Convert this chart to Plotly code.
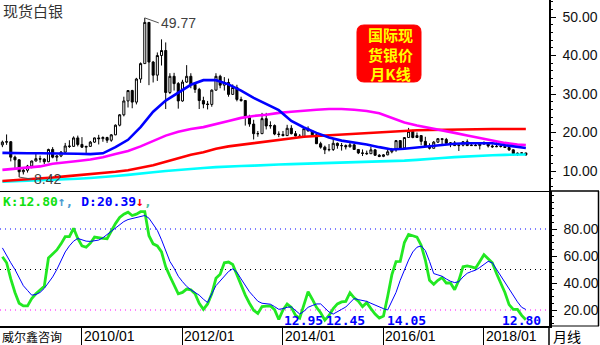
import plotly.graph_objects as go
import pandas as pd

# ---------------- data ----------------
months = [p.strftime("%Y/%m") for p in pd.period_range("2008-06", "2018-11", freq="M")]

opens = [
    16.8, 17.5, 17.6, 13.6, 12.9, 9.8, 10.2,
    11.3, 12.6, 13.2, 13.1, 12.4, 15.6, 13.6, 13.9, 14.9, 16.5, 16.4, 18.6,
    16.9, 16.2, 16.4, 17.5, 18.6, 18.4, 18.7, 18.0, 19.4, 21.9, 24.6, 28.2,
    30.9, 27.9, 33.9, 37.9, 48.6, 38.3, 34.9, 40.0, 41.3, 30.4, 34.6, 32.7,
    28.2, 33.1, 34.6, 32.5, 31.2, 28.3, 27.4, 27.3, 31.0, 34.6, 32.3, 33.0,
    29.9, 31.7, 28.6, 28.3, 24.0, 22.2, 19.7, 19.7, 23.6, 21.7, 21.8, 19.6,
    19.5, 19.2, 21.1, 19.7, 19.1, 18.8, 21.0, 20.4, 19.4, 17.1, 16.2, 15.5,
    15.6, 17.2, 16.6, 16.6, 16.3, 16.8, 15.6, 14.7, 14.6, 14.5, 15.5, 14.1,
    13.8, 14.2, 15.0, 15.5, 17.9, 16.0, 18.7, 20.3, 18.7, 19.2, 17.7, 16.5,
    15.9, 17.5, 18.4, 18.2, 17.2, 17.3, 16.6, 16.7, 17.6, 16.6, 16.7, 16.6,
    17.0, 17.3, 16.5, 16.3, 16.4, 16.4, 16.1, 15.5, 14.5, 14.6, 14.7,
]
highs = [
    17.9, 19.5, 17.8, 14.0, 13.1, 10.6, 11.6,
    12.7, 14.6, 14.0, 13.3, 15.8, 16.2, 14.1, 15.2, 17.3, 18.0, 19.0, 19.2,
    18.8, 16.5, 17.8, 18.7, 19.4, 19.0, 18.9, 19.6, 22.1, 24.8, 29.3, 31.0,
    31.1, 34.2, 38.2, 49.77, 48.6, 38.6, 40.8, 44.2, 43.4, 35.4, 35.5, 33.1,
    33.7, 37.5, 35.4, 33.0, 31.6, 29.3, 28.2, 31.2, 35.4, 35.0, 34.4, 34.0,
    32.5, 32.4, 29.3, 28.4, 24.6, 23.3, 20.4, 25.1, 25.1, 22.9, 22.1, 20.3,
    20.4, 22.0, 21.9, 20.4, 19.6, 21.2, 21.6, 20.5, 19.6, 17.6, 16.6, 17.0,
    18.5, 17.4, 17.3, 16.9, 17.8, 17.0, 15.7, 15.6, 15.3, 16.3, 15.6, 14.4,
    14.4, 15.8, 16.0, 18.0, 17.9, 18.8, 21.2, 20.7, 20.0, 19.3, 18.9, 17.2,
    17.8, 18.5, 18.5, 18.6, 17.5, 17.8, 16.9, 17.8, 18.2, 17.4, 17.4, 17.1,
    17.7, 17.4, 16.9, 17.4, 16.9, 17.3, 16.2, 15.6, 14.8, 14.8, 14.7,
]
lows = [
    16.2, 16.8, 12.5, 10.7, 8.42, 9.1, 9.6,
    10.7, 12.5, 12.2, 11.8, 12.3, 13.3, 12.5, 13.6, 14.7, 16.0, 16.3, 16.4,
    16.0, 14.7, 16.3, 17.3, 16.9, 17.6, 17.3, 17.6, 19.3, 21.6, 24.2, 26.5,
    26.3, 27.3, 32.9, 37.9, 32.3, 33.0, 33.4, 37.4, 26.1, 30.0, 30.9, 26.2,
    28.0, 32.9, 31.5, 30.3, 26.1, 26.3, 26.0, 26.7, 30.9, 31.5, 30.9, 29.3,
    29.9, 28.1, 28.0, 21.8, 21.5, 18.2, 18.9, 19.6, 20.8, 21.0, 19.3, 18.8,
    19.0, 19.2, 19.5, 19.0, 18.7, 18.6, 20.3, 19.2, 17.0, 15.8, 14.4, 15.1,
    15.2, 15.8, 15.3, 15.6, 16.1, 15.6, 14.4, 13.9, 14.2, 14.5, 13.9, 13.6,
    13.6, 14.1, 14.6, 15.0, 15.8, 15.8, 18.7, 18.5, 18.6, 16.7, 16.4, 15.6,
    15.9, 17.3, 16.8, 17.0, 16.2, 16.5, 15.2, 16.4, 16.5, 16.5, 16.6, 15.6,
    16.9, 16.1, 16.0, 16.2, 16.1, 16.0, 15.2, 14.0, 13.9, 14.3, 13.9,
]
closes = [
    17.5, 17.6, 13.6, 12.9, 9.8, 10.2, 11.3,
    12.6, 13.2, 13.1, 12.4, 15.6, 13.6, 13.9, 14.9, 16.5, 16.4, 18.6, 16.9,
    16.2, 16.4, 17.5, 18.6, 18.4, 18.7, 18.0, 19.4, 21.9, 24.6, 28.2, 30.9,
    27.9, 33.9, 37.9, 48.6, 38.3, 34.9, 40.0, 41.3, 30.4, 34.6, 32.7, 28.2,
    33.1, 34.6, 32.5, 31.2, 28.3, 27.4, 27.3, 31.0, 34.6, 32.3, 33.0, 29.9,
    31.7, 28.6, 28.3, 24.0, 22.2, 19.7, 19.7, 23.6, 21.7, 21.8, 19.6, 19.5,
    19.2, 21.1, 19.7, 19.1, 18.8, 21.0, 20.4, 19.4, 17.1, 16.2, 15.5, 15.6,
    17.2, 16.6, 16.6, 16.3, 16.8, 15.6, 14.7, 14.6, 14.5, 15.5, 14.1, 13.8,
    14.2, 15.0, 15.5, 17.9, 16.0, 18.7, 20.3, 18.7, 19.2, 17.7, 16.5, 15.9,
    17.5, 18.4, 18.2, 17.2, 17.3, 16.6, 16.7, 17.6, 16.6, 16.7, 16.6, 17.0,
    17.3, 16.5, 16.3, 16.4, 16.4, 16.1, 15.5, 14.5, 14.6, 14.7, 14.2,
]

# moving-average lines, read every 3rd month (plus the last month)
ma_step = 3
ma_blue = [14.7, 14.6, 14.6, 14.6, 14.6, 14.6, 14.5, 14.4, 14.6, 16.2,
           18.1, 21.4, 25.4, 28.3, 30.4, 32.4, 33.6, 33.6, 32.5, 30.9,
           29.0, 27.5, 25.8, 23.0, 21.3, 19.9, 18.7, 17.9, 17.4, 16.9,
           16.2, 15.6, 15.8, 16.1, 16.4, 16.8, 17.1, 17.2, 17.2, 17.2,
           16.7, 16.2, 16.0]
ma_magenta = [10.3, 10.6, 10.9, 11.2, 11.9, 12.2, 12.6, 13.0, 13.6, 14.4,
              15.2, 16.4, 17.8, 19.2, 20.2, 20.9, 21.4, 22.1, 23.0, 23.8,
              24.3, 24.6, 25.1, 25.4, 25.7, 25.9, 26.1, 26.1, 25.9, 25.6,
              25.0, 23.8, 22.6, 21.8, 21.2, 20.5, 19.9, 19.2, 18.6, 17.9,
              17.3, 16.9, 16.75]
ma_red = [7.4, 7.6, 7.8, 8.1, 8.3, 8.6, 8.9, 9.1, 9.4, 9.8,
          10.2, 10.8, 11.5, 12.4, 13.4, 14.2, 14.9, 15.8, 16.4, 16.8,
          17.2, 17.6, 18.0, 18.5, 18.9, 19.1, 19.3, 19.4, 19.6, 19.8,
          20.0, 20.2, 20.4, 20.6, 20.65, 20.7, 20.9, 20.9, 20.9, 20.9,
          20.9, 20.9, 20.9]
ma_cyan = [7.2, 7.3, 7.5, 7.6, 7.8, 7.9, 8.0, 8.2, 8.4, 8.7,
           9.0, 9.4, 9.7, 10.0, 10.3, 10.5, 10.8, 11.0, 11.2, 11.3,
           11.4, 11.6, 11.7, 11.8, 11.9, 12.0, 12.1, 12.2, 12.3, 12.3,
           12.4, 12.5, 12.7, 12.9, 13.2, 13.4, 13.6, 13.8, 13.9, 14.1,
           14.2, 14.3, 14.3]

k_vals = [
    59.5, 55, 43, 33, 25, 23, 23, 28.5, 32, 35,
    37.5, 58.5, 61.5, 64.5, 69, 74.3, 74.3, 80.5, 73, 67.5,
    66.5, 69.5, 74, 73.3, 73, 72.8, 79, 84, 88.5, 91,
    92.5, 90, 91, 92.8, 92.8, 75, 69, 67.5, 63, 52,
    45, 39, 32, 33, 35.5, 35, 32, 25, 20.5, 24.5,
    32, 43.5, 46.5, 55, 55.5, 53.7, 46, 38, 31, 25,
    19.8, 17.5, 22.5, 22.8, 23, 20.3, 12.95, 20, 24.4, 22,
    16, 14, 23.7, 33.6, 28, 22, 18, 12.45, 16, 21,
    24.5, 26, 26.4, 32.8, 29, 26.5, 22.5, 25.4, 21, 17,
    14.05, 15.5, 30, 46, 55.8, 56, 70, 76, 75, 74,
    68, 57, 42, 39, 42, 44, 40, 40, 35, 42,
    52, 52.6, 52, 51, 56, 61, 58, 55, 47, 40,
    33, 24, 20.5, 20.5, 16, 12.8,
]
d_vals = [
    66, 60, 55, 50, 44, 38, 34.5, 31, 31.5, 33,
    36, 40, 44.5, 50, 56, 63, 67.5, 71, 73, 72,
    71, 70.8, 71.3, 71.8, 73.5, 76, 78.5, 81, 83.5, 85.5,
    87, 87.8, 88.5, 89.3, 90, 88, 83.5, 79, 72, 64,
    56, 51, 45, 41, 37.5, 35, 33, 31, 28, 25.5,
    32, 38, 41.5, 45, 48.5, 50.5, 48, 43, 38.5, 33.5,
    30, 26.5, 25, 24.7, 24.3, 22.5, 20.5, 21, 22, 22.3,
    19.5, 17, 19, 22, 23.3, 24.5, 24.5, 21.5, 18.5, 17,
    18.5, 20.5, 22.2, 25.5, 28.5, 27.7, 27, 26.4, 25, 23.5,
    22, 21, 20, 26, 33, 42, 50, 57, 63, 66.5,
    67.5, 64, 56, 47, 46, 45, 43, 41.3, 40.3, 41,
    44.5, 47.2, 48.5, 49.5, 51.5, 54, 56, 55, 50, 45,
    40, 35, 30.5, 26, 22, 20.39,
]

tick_months = ["2010/01", "2012/01", "2014/01", "2016/01", "2018/01"]
price_ticks = [10, 20, 30, 40, 50]
kd_ticks = [20, 40, 60, 80]
kd_levels = [80, 50, 20]
kd_low_months = ["2013/12", "2014/11", "2015/12", "2018/11"]
badge_lines = ["国际现", "货银价", "月K线"]

# ---------------- styling / layout helpers ----------------
PW, PH = 549.0, 326.0          # plot area in pixels


def pxx(x):
    return x / PW


def pxy(y):
    return (PH - y) / PH


x = list(range(len(months)))
ma_x = list(range(0, len(months), ma_step))
if ma_x[-1] != len(months) - 1:
    ma_x.append(len(months) - 1)

split = (PH - 191) / PH
XR = [-0.573, 130.53]

fig = go.Figure()
fig.add_trace(go.Candlestick(
    x=x, open=opens, high=highs, low=lows, close=closes,
    xaxis="x", yaxis="y", whiskerwidth=0,
    increasing=dict(line=dict(color="black", width=1), fillcolor="white"),
    decreasing=dict(line=dict(color="black", width=1), fillcolor="black"),
    hoverinfo="skip", showlegend=False))

for vals, col in [(ma_cyan, "#00ffff"), (ma_red, "#ff0000"),
                  (ma_magenta, "#ff00ff"), (ma_blue, "#0000ff")]:
    fig.add_trace(go.Scatter(x=ma_x, y=vals, mode="lines", xaxis="x", yaxis="y",
                             line=dict(color=col, width=2.6), hoverinfo="skip",
                             showlegend=False))

fig.add_trace(go.Scatter(x=x, y=k_vals, mode="lines", xaxis="x2", yaxis="y2",
                         line=dict(color="#22e822", width=2.8), hoverinfo="skip",
                         showlegend=False))
fig.add_trace(go.Scatter(x=x, y=d_vals, mode="lines", xaxis="x2", yaxis="y2",
                         line=dict(color="#0000ff", width=1), hoverinfo="skip",
                         showlegend=False))

shapes = []
level_colors = ["#0000ff", "#000000", "#ff00ff"]
for lv, c in zip(kd_levels, level_colors):
    shapes.append(dict(type="line", xref="paper", yref="y2", x0=0, x1=1, y0=lv, y1=lv,
                       line=dict(color=c, width=1, dash="1px,4px"), layer="below"))

# red rounded badge
x0b, y0b, x1b, y1b, r = 357, 25, 421, 82, 7


def P(a, b):
    return f"{pxx(a):.5f},{pxy(b):.5f}"


badge = (f"M {P(x0b + r, y0b)} L {P(x1b - r, y0b)} Q {P(x1b, y0b)} {P(x1b, y0b + r)} "
         f"L {P(x1b, y1b - r)} Q {P(x1b, y1b)} {P(x1b - r, y1b)} "
         f"L {P(x0b + r, y1b)} Q {P(x0b, y1b)} {P(x0b, y1b - r)} "
         f"L {P(x0b, y0b + r)} Q {P(x0b, y0b)} {P(x0b + r, y0b)} Z")
shapes.append(dict(type="path", xref="paper", yref="paper", path=badge,
                   fillcolor="#ff0000", line=dict(color="#ff0000", width=1)))

# frame pieces
shapes += [
    dict(type="line", xref="paper", yref="paper", x0=1, x1=1, y0=pxy(326), y1=pxy(345),
         line=dict(color="black", width=1.5)),
    dict(type="line", xref="paper", yref="paper", x0=1, x1=pxx(599), y0=pxy(191), y1=pxy(191),
         line=dict(color="black", width=1.5)),
    dict(type="line", xref="paper", yref="paper", x0=pxx(598.5), x1=pxx(598.5), y0=pxy(191), y1=pxy(326),
         line=dict(color="black", width=1.5)),
    dict(type="line", xref="paper", yref="paper", x0=1, x1=pxx(599), y0=pxy(326), y1=pxy(326),
         line=dict(color="black", width=1)),
]

CJK = "Noto Sans CJK SC"
SANS = "Liberation Sans, Arial"
MONO = "DejaVu Sans Mono"

ann = []
ann.append(dict(xref="paper", yref="paper", x=pxx(1), y=pxy(10), text="现货白银",
                showarrow=False, xanchor="left", yanchor="middle",
                font=dict(family=CJK, size=15, color="#333333")))

i_hi = highs.index(max(highs))
ann.append(dict(xref="x", yref="y", x=i_hi, y=highs[i_hi], text=f"{highs[i_hi]:.2f}",
                showarrow=True, arrowhead=0, arrowwidth=1, arrowcolor="#555555",
                ax=14, ay=5, xanchor="left", yanchor="middle",
                font=dict(family=SANS, size=14, color="#404040")))
i_lo = lows.index(min(lows))
ann.append(dict(xref="x", yref="y", x=i_lo, y=lows[i_lo], text=f"{lows[i_lo]:.2f}",
                showarrow=True, arrowhead=0, arrowwidth=1, arrowcolor="#555555",
                ax=13, ay=2, xanchor="left", yanchor="middle",
                font=dict(family=SANS, size=14, color="#404040")))

ann.append(dict(xref="paper", yref="paper", x=pxx(390), y=pxy(54),
                text="<b>" + "<br>".join(badge_lines) + "</b>", showarrow=False,
                xanchor="center", yanchor="middle", align="center",
                font=dict(family=CJK, size=15, color="#ffff00")))

legend = (f"<b><span style='color:#10e010'>K:{k_vals[-1]:.2f}</span>"
          f"<span style='color:#4a9ad0'>↑,</span> "
          f"<span style='color:#0000ff'>D:{d_vals[-1]:.2f}</span>"
          f"<span style='color:#ff0000'>↓</span>"
          f"<span style='color:#4ac0a0'>,</span></b>")
ann.append(dict(xref="paper", yref="paper", x=pxx(1), y=pxy(201), text=legend,
                showarrow=False, xanchor="left", yanchor="middle",
                font=dict(family=MONO, size=13)))

low_label_y = 11.9
low_shifts = [3, -1, 6, 17]
for m, sh in zip(kd_low_months, low_shifts):
    i = months.index(m)
    last = (i == len(months) - 1)
    ann.append(dict(xref="x2", yref="y2", x=i, y=low_label_y, text=f"<b>{k_vals[i]:.2f}</b>",
                    showarrow=False, xanchor="right" if last else "left",
                    yanchor="middle", xshift=sh,
                    font=dict(family=MONO, size=13, color="#0000ff")))

for m in tick_months:
    ann.append(dict(xref="x2", yref="paper", x=months.index(m), y=pxy(336), text=m,
                    showarrow=False, xanchor="left", yanchor="middle", xshift=0,
                    font=dict(family=SANS, size=14, color="black")))
ann.append(dict(xref="paper", yref="paper", x=0, y=pxy(336), text="威尔鑫咨询",
                showarrow=False, xanchor="left", yanchor="middle",
                font=dict(family=CJK, size=12, color="black")))
ann.append(dict(xref="paper", yref="paper", x=pxx(551), y=pxy(336), text="月线",
                showarrow=False, xanchor="left", yanchor="middle",
                font=dict(family=CJK, size=14, color="black")))

axis_common = dict(showgrid=False, zeroline=False)
fig.update_layout(
    width=600, height=345,
    margin=dict(l=0, r=51, t=0, b=19, pad=0),
    paper_bgcolor="white", plot_bgcolor="white",
    showlegend=False,
    xaxis=dict(domain=[0, 1], anchor="y", range=XR, showline=True, linecolor="black",
               linewidth=1, showticklabels=False, ticks="",
               rangeslider=dict(visible=False), **axis_common),
    yaxis=dict(domain=[split, 1], anchor="x", side="right", range=[4.81, 54.42],
               tickvals=price_ticks, tickformat=".2f", ticks="outside", ticklen=5,
               tickcolor="black", showline=True, linecolor="black", linewidth=1.5,
               ticklabelstandoff=4,
               tickfont=dict(family=SANS, size=14, color="#111111"),
               minor=dict(dtick=2, tick0=0, ticks="outside", ticklen=2, tickcolor="black"),
               **axis_common),
    xaxis2=dict(domain=[0, 1], anchor="y2", range=XR, showline=True, linecolor="black",
                linewidth=1.5, showticklabels=False, ticks="outside", ticklen=19,
                tickcolor="black", tickwidth=1,
                tickvals=[months.index(m) for m in tick_months], **axis_common),
    yaxis2=dict(domain=[0, split], anchor="x2", side="right", range=[8.15, 108.15],
                tickvals=kd_ticks, tickformat=".2f", ticks="outside", ticklen=5,
                tickcolor="black", showline=True, linecolor="black", linewidth=2.5,
                ticklabelstandoff=4,
                tickfont=dict(family=SANS, size=14, color="#111111"),
                minor=dict(dtick=5, tick0=0, ticks="outside", ticklen=2, tickcolor="black"),
                **axis_common),
    shapes=shapes,
    annotations=ann,
)

fig.write_html("out.html")
